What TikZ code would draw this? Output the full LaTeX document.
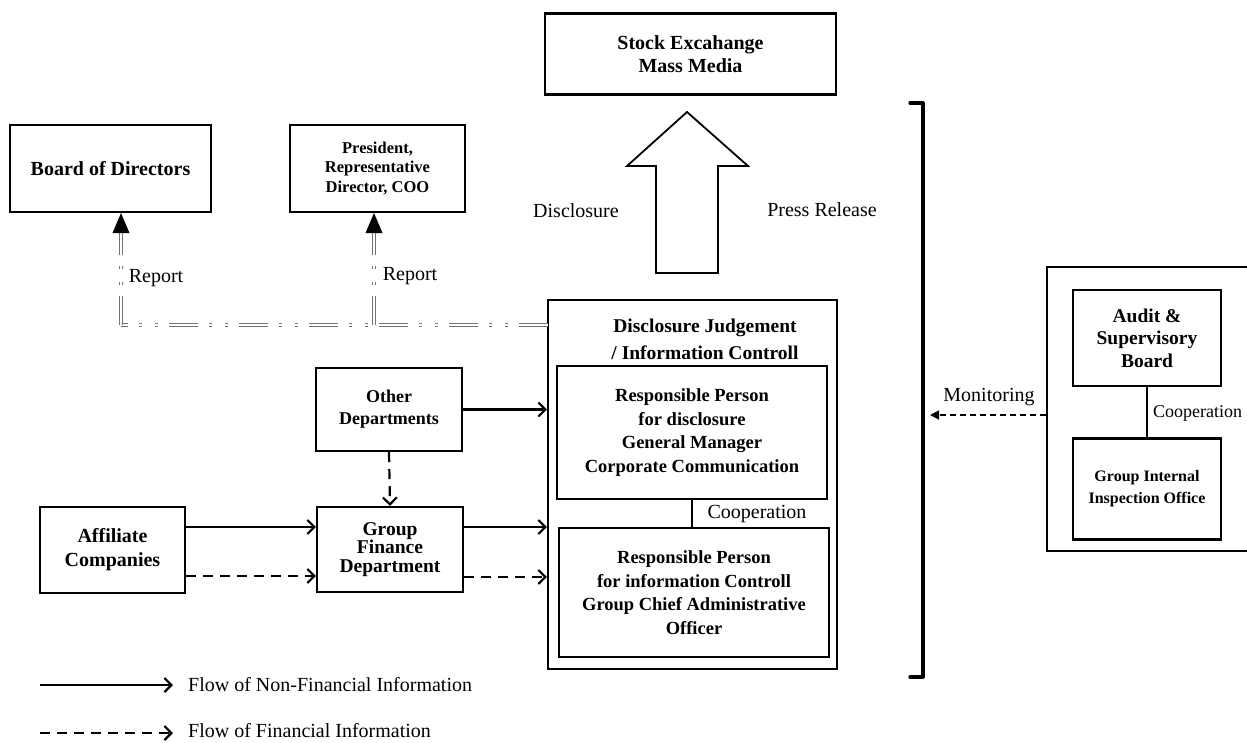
\documentclass[tikz,border=0pt]{standalone}
\usepackage{fontspec}
\setmainfont{Liberation Serif}
\usetikzlibrary{arrows.meta}
\begin{document}
\begin{tikzpicture}[x=1pt,y=-1pt,
  box/.style={draw, line width=2.2pt, inner sep=2pt, align=center, font=\bfseries\fontsize{20}{23}\selectfont},
  lbl/.style={font=\fontsize{20}{24}\selectfont, inner sep=0pt},
  flow/.style={line width=2.2pt, -{Straight Barb[length=7pt,width=14pt,line width=2.2pt]}},
  fin/.style={flow, dash pattern=on 10pt off 7pt},
  rep/.style={draw=black!55, line width=1pt, double=white, double distance=1.8pt, dash pattern=on 29pt off 11pt on 3pt off 13pt on 3pt off 11pt},
  coop/.style={line width=1.8pt},
]
\useasboundingbox (0,0) rectangle (1247,742);
\clip (0,0) rectangle (1247,742);

% boxes
\node[box, minimum width=291pt, minimum height=81pt] (stock) at (690.5,54) {Stock Excahange\\Mass Media};
\node[box, minimum width=201pt, minimum height=87pt] (bod) at (110.5,168.5) {Board of Directors};
\node[box, minimum width=175pt, minimum height=87pt, font=\bfseries\fontsize{16.5}{19.5}\selectfont] (pres) at (377.5,168.5) {President,\\Representative\\Director, COO};
\node[box, minimum width=146pt, minimum height=83pt, font=\bfseries\fontsize{18}{22}\selectfont] (other) at (389,409.5) {Other\\Departments};
\node[box, minimum width=146pt, minimum height=85pt, font=\bfseries\fontsize{19.5}{18.5}\selectfont] (gf) at (390,549.5) {Group\\Finance\\Department};
\node[box, minimum width=145pt, minimum height=86pt, font=\bfseries\fontsize{20}{24}\selectfont] (aff) at (112.5,550) {Affiliate\\Companies};
\node[box, minimum width=289pt, minimum height=369pt] (disc) at (692.5,484.5) {};
\node[align=center, font=\bfseries\fontsize{19.5}{27}\selectfont, inner sep=0pt] (title) at (705,339.5) {Disclosure Judgement\\/ Information Controll};
\node[box, minimum width=270pt, minimum height=133pt, font=\bfseries\fontsize{18.5}{23.5}\selectfont] (rp1) at (692,432.5) {Responsible Person\\for disclosure\\General Manager\\Corporate Communication};
\node[box, minimum width=270pt, minimum height=129pt, font=\bfseries\fontsize{18.5}{23.5}\selectfont] (rp2) at (694,592.5) {Responsible Person\\for information Controll\\Group Chief Administrative\\Officer};

% right group
\node[draw, line width=1.3pt, minimum width=213pt, minimum height=284pt, inner sep=0pt] (aouter) at (1153.5,409) {};
\node[box, minimum width=148pt, minimum height=96pt, font=\bfseries\fontsize{19.5}{22.5}\selectfont] (audit) at (1147,338) {Audit \&\\Supervisory\\Board};
\node[box, minimum width=148pt, minimum height=101pt, font=\bfseries\fontsize{16}{22}\selectfont] (giio) at (1147,489) {Group Internal\\Inspection Office};
\draw[coop] (audit.south) -- (giio.north);
\node[lbl, anchor=west, font=\fontsize{18}{22}\selectfont] (coopR) at (1153,413) {Cooperation};

% big disclosure arrow
\draw[line width=1.8pt, line join=miter] (687,112) -- (748,166) -- (718,166) -- (718,273) -- (656,273) -- (656,166) -- (627,166) -- cycle;
\node[lbl] (disclab) at (576,211) {Disclosure};
\node[lbl] (presslab) at (822,210) {Press Release};

% bracket
\draw[line width=3.2pt, line join=round, line cap=round] (910,103) -- (923,103) -- (923,677) -- (910,677);

% monitoring
\coordinate (monE) at (930,415);
\draw[line width=1.3pt, dash pattern=on 6pt off 4pt, -{Triangle[length=9pt,width=9pt]}] (aouter.west |- monE) -- (monE);
\node[lbl] (monlab) at (989,397) {Monitoring};

% cooperation inside disclosure box
\draw[coop] (rp1.south) -- (rp1.south |- rp2.north);
\node[lbl] (coopL) at (757,514) {Cooperation};

% report lines
\coordinate (rh) at (548,325);
\coordinate (bodArr) at (121,232);
\coordinate (presArr) at (374,232);
\draw[rep] (rh) -- (bodArr |- rh);
\draw[rep] (bodArr |- rh) -- (bodArr);
\draw[rep] (presArr |- rh) -- (presArr);
\fill (121,213) -- (112.5,233) -- (129.5,233) -- cycle;
\fill (374,213) -- (365.5,233) -- (382.5,233) -- cycle;
\node[lbl] (rep1) at (156,278) {Report};
\node[lbl] (rep2) at (410,276) {Report};

% flows
\coordinate (aff1) at ([yshift=23pt]aff.east);
\coordinate (aff2) at ([yshift=-26pt]aff.east);
\coordinate (gf1) at ([yshift=22.5pt]gf.east);
\coordinate (gf2) at ([yshift=-27.5pt]gf.east);
\draw[flow] (other.east) -- (disc.west |- other.east);
\draw[fin] (other.south) -- (gf.north);
\draw[flow] (aff1) -- (gf.west |- aff1);
\draw[fin] (aff2) -- (gf.west |- aff2);
\draw[flow] (gf1) -- (disc.west |- gf1);
\draw[fin] (gf2) -- (disc.west |- gf2);

% legend
\coordinate (l1s) at (40,685); \coordinate (l1e) at (173,685);
\coordinate (l2s) at (40,733); \coordinate (l2e) at (173,733);
\draw[flow] (l1s) -- (l1e);
\draw[fin] (l2s) -- (l2e);
\node[lbl, anchor=west] (leg1) at (188,685) {Flow of Non-Financial Information};
\node[lbl, anchor=west] (leg2) at (188,731) {Flow of Financial Information};
\end{tikzpicture}
\end{document}
